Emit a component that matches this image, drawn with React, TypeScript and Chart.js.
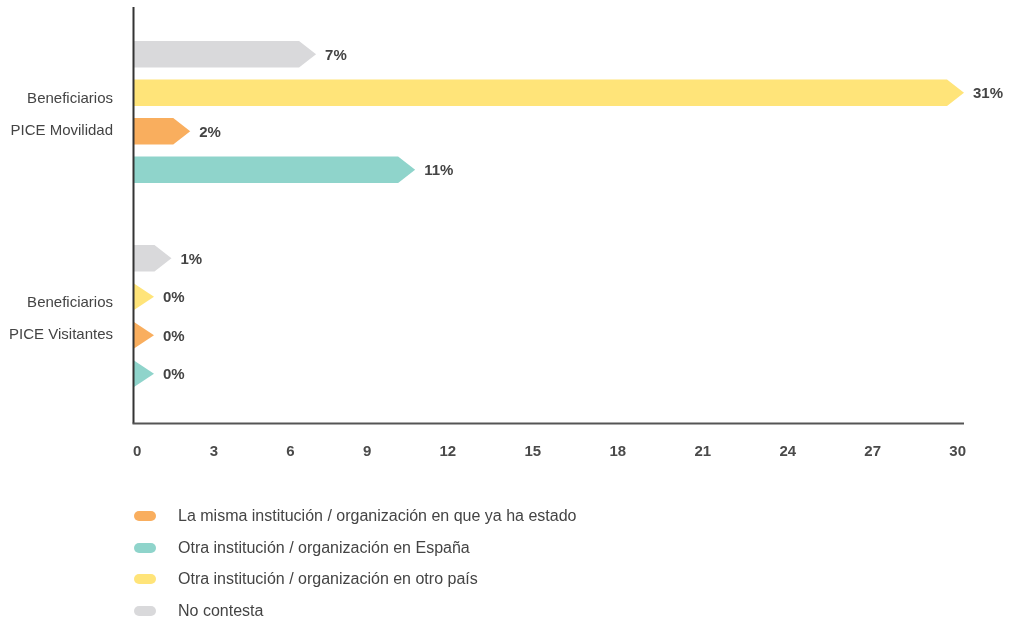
import React, { useEffect, useRef } from 'react';
import { Chart, registerables } from 'chart.js';

Chart.register(...registerables);

// ---- Data ----
const categories: string[][] = [
  ['Beneficiarios', 'PICE Movilidad'],
  ['Beneficiarios', 'PICE Visitantes'],
];
const seriesNames = [
  'No contesta',
  'Otra institución / organización en otro país',
  'La misma institución / organización en que ya ha estado',
  'Otra institución / organización en España',
];
const noContesta = [6.8, 1.4];
const otroPais = [31, 0];
const mismaInstitucion = [2.1, 0];
const otraEspana = [10.5, 0];
const xTickLabels = ['0', '3', '6', '9', '12', '15', '18', '21', '24', '27', '30'];
const legendOrder = [2, 3, 1, 0];

// ---- Styles ----
const FONT = '"Liberation Sans", Arial, sans-serif';
const seriesColors = ['#d9d9db', '#ffe479', '#f9ae5e', '#8fd4cb'];
const TEXT = '#444444';

const arrowPlugin = {
  id: 'arrowBars',
  afterDatasetsDraw(chart: any) {
    const ctx = chart.ctx as CanvasRenderingContext2D;
    const area = chart.chartArea;
    ctx.save();
    chart.data.datasets.forEach((ds: any, i: number) => {
      const meta = chart.getDatasetMeta(i);
      meta.data.forEach((el: any, j: number) => {
        const { x, y, base, height } = el.getProps(['x', 'y', 'base', 'height'], true);
        const total = Math.max(x - base, 20);
        const tipLen = total <= 22 ? total : 17;
        const end = base + total;
        const half = height / 2;
        ctx.beginPath();
        ctx.moveTo(base, y - half);
        ctx.lineTo(end - tipLen, y - half);
        ctx.lineTo(end, y);
        ctx.lineTo(end - tipLen, y + half);
        ctx.lineTo(base, y + half);
        ctx.closePath();
        ctx.fillStyle = seriesColors[i];
        ctx.fill();
        ctx.fillStyle = TEXT;
        ctx.font = `bold 15px ${FONT}`;
        ctx.textAlign = 'left';
        ctx.textBaseline = 'middle';
        ctx.fillText(Math.round(ds.data[j]) + '%', end + 9, y + 1.5);
      });
    });
    // axis lines
    const x0 = chart.scales.x.getPixelForValue(0) - 0.5;
    const yBottom = area.bottom + 5.5;
    ctx.lineWidth = 2;
    ctx.strokeStyle = '#333333';
    ctx.beginPath();
    ctx.moveTo(x0, area.top - 3);
    ctx.lineTo(x0, yBottom);
    ctx.stroke();
    ctx.strokeStyle = '#555555';
    ctx.beginPath();
    ctx.moveTo(x0 - 1, yBottom);
    ctx.lineTo(area.right, yBottom);
    ctx.stroke();
    ctx.restore();
  },
};

export default function App() {
  const canvasRef = useRef<HTMLCanvasElement>(null);

  useEffect(() => {
    document.body.style.margin = '0';
    const series = [noContesta, otroPais, mismaInstitucion, otraEspana];
    const chart = new Chart(canvasRef.current as HTMLCanvasElement, {
      type: 'bar',
      data: {
        labels: categories as any,
        datasets: series.map((d, i) => ({
          label: seriesNames[i],
          data: d,
          backgroundColor: 'rgba(0,0,0,0)',
          borderWidth: 0,
          categoryPercentage: 0.755,
          barPercentage: 0.688,
        })),
      },
      options: {
        indexAxis: 'y',
        animation: false,
        responsive: false,
        events: [],
        layout: { padding: { left: 0, top: 10, right: 51, bottom: 202 } },
        plugins: { legend: { display: false }, tooltip: { enabled: false } },
        scales: {
          x: { type: 'linear', display: false, min: 0, max: 31 },
          y: {
            type: 'category',
            grid: { display: false, drawTicks: false },
            border: { display: false },
            ticks: {
              color: TEXT,
              padding: 21,
              labelOffset: 3,
              font: { size: 15, family: FONT, lineHeight: 32 / 15 },
            },
            afterFit: (scale: any) => {
              scale.width = 134;
              scale.paddingTop = 0;
              scale.paddingBottom = 0;
            },
          },
        },
      },
      plugins: [arrowPlugin],
    });
    return () => chart.destroy();
  }, []);

  return (
    <div style={{ position: 'relative', width: 1015, height: 620, fontFamily: FONT }}>
      <canvas ref={canvasRef} width={1015} height={620} style={{ display: 'block' }} />
      <div
        style={{
          position: 'absolute',
          left: 133,
          top: 443,
          width: 833,
          display: 'flex',
          justifyContent: 'space-between',
          fontSize: 15,
          lineHeight: '16px',
          fontWeight: 'bold',
          color: '#4a4a4a',
        }}
      >
        {xTickLabels.map((t) => (
          <span key={t}>{t}</span>
        ))}
      </div>
      <div style={{ position: 'absolute', left: 134, top: 500 }}>
        {legendOrder.map((i) => (
          <div key={i} style={{ display: 'flex', alignItems: 'center', height: 31.7 }}>
            <span
              style={{
                display: 'inline-block',
                width: 22,
                height: 10,
                borderRadius: 5,
                background: seriesColors[i],
                marginRight: 22,
              }}
            />
            <span style={{ fontSize: 16, color: TEXT }}>{seriesNames[i]}</span>
          </div>
        ))}
      </div>
    </div>
  );
}
